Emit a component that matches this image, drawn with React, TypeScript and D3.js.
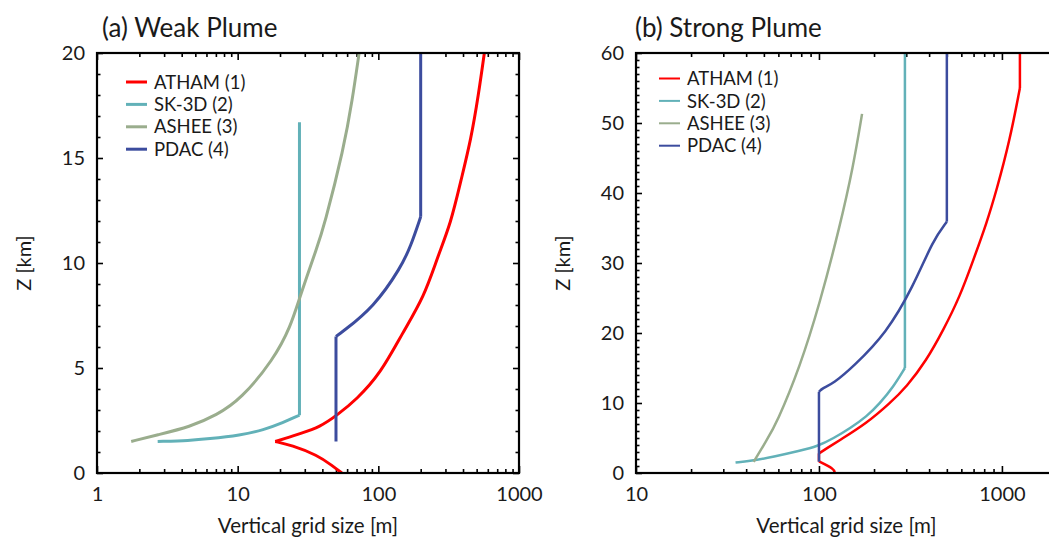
import React, { useRef, useEffect } from "react";
import * as d3 from "d3";

const WIDTH = 1049;
const HEIGHT = 545;

const seriesNames = ["ATHAM (1)", "SK-3D (2)", "ASHEE (3)", "PDAC (4)"];
const seriesColors = ["#ff0000", "#62b1b8", "#9aad8d", "#3c4c9e"];

// [vertical grid size (m), height (km)] — each series split into segments at its corners
const weakAtham = [
  [[55, 0], [47, 0.35], [37, 0.85], [24, 1.33], [18.5, 1.5]],
  [[18.5, 1.5], [23.8, 1.73], [27, 1.85], [38.8, 2.2], [51, 2.76], [70, 3.5], [104, 4.75], [148, 6.65],
   [212, 8.4], [264, 10.3], [328, 11.9], [387, 13.95], [456, 15.9], [515, 18], [567, 20]],
];
const weakSk3d = [
  [[2.7, 1.5], [4.6, 1.55], [6.1, 1.62], [10.5, 1.8], [15.3, 2.05], [21, 2.4], [27.5, 2.75]],
  [[27.5, 2.75], [27.5, 16.7]],
];
const weakAshee = [
  [[1.75, 1.5], [2.66, 1.81], [4.6, 2.2], [7.1, 2.76], [10.5, 3.5], [18, 5.4], [23.8, 6.97], [27.7, 8.4],
   [36.8, 10.78], [41, 11.7], [57, 15.5], [65.3, 17.76], [73, 20]],
];
const weakPdac = [
  [[50, 1.5], [50, 6.5]],
  [[50, 6.5], [55, 6.7], [93, 7.9], [145, 9.8], [170, 10.8], [200, 12.2]],
  [[200, 12.2], [200, 20]],
];

const strongAtham = [
  [[122, 0], [121, 0.6], [100, 1.65]],
  [[100, 1.65], [100, 2.8]],
  [[100, 2.8], [110, 3.5], [130, 4.7], [182, 7.1], [244, 9.96], [301, 12.3], [387, 16.1], [478, 20.4],
   [589, 25.2], [697, 30.4], [825, 35.7], [935, 40.4], [1106, 47.6], [1254, 55]],
  [[1254, 55], [1254, 60]],
];
const strongSk3d = [
  [[35, 1.5], [43.8, 1.76], [56, 2.3], [78.8, 3.19], [98, 3.8], [120, 4.95], [148, 6.4], [182, 8.05],
   [215, 9.95], [255, 12.3], [295, 15]],
  [[295, 15], [295, 60]],
];
const strongAshee = [
  [[44, 1.6], [51.8, 4.7], [58.7, 7.1], [78.8, 15.2], [101, 24.2], [130, 35.2], [154, 43.8], [172, 51.3]],
];
const strongPdac = [
  [[100, 1.6], [100, 11.6]],
  [[100, 11.6], [104, 12.1], [120, 12.8], [154, 15.2], [234, 20], [327, 26.6], [421, 33.3], [500, 35.9]],
  [[500, 35.9], [500, 60]],
];

const weakXTicks = [1, 10, 100, 1000];
const weakYTicks = [0, 5, 10, 15, 20];
const strongXTicks = [10, 100, 1000];
const strongYTicks = [0, 10, 20, 30, 40, 50, 60];

const FONT = "Lato, 'Open Sans', sans-serif";
const INK = "#1a1a1a";

const panels = [
  {
    id: "a", title: "(a) Weak Plume", titleX: 102,
    left: 97, top: 53, width: 422, height: 420,
    xDomain: [1, 1000], yDomain: [0, 20], xTicks: weakXTicks, yTicks: weakYTicks,
    series: [weakAtham, weakSk3d, weakAshee, weakPdac], lineWidth: 3,
    legendX: 29, legendY: 29, legendWidth: 3,
  },
  {
    id: "b", title: "(b) Strong Plume", titleX: 635,
    left: 636, top: 53, width: 421, height: 420,
    xDomain: [10, 2000], yDomain: [0, 60], xTicks: strongXTicks, yTicks: strongYTicks,
    series: [strongAtham, strongSk3d, strongAshee, strongPdac], lineWidth: 2.5,
    legendX: 23, legendY: 25.5, legendWidth: 2,
  },
];

const App = () => {
  const svgRef = useRef(null);

  useEffect(() => {
    const svg = d3.select(svgRef.current);
    svg.selectAll("*").remove();

    panels.forEach(p => {
      const x = d3.scaleLog().domain(p.xDomain).range([0, p.width]);
      const y = d3.scaleLinear().domain(p.yDomain).range([p.height, 0]);
      const g = svg.append("g").attr("transform", `translate(${p.left},${p.top})`);

      const clipId = `clip-${p.id}`;
      svg.append("clipPath").attr("id", clipId)
        .append("rect").attr("width", p.width).attr("height", p.height);

      const minorX = x.ticks().filter(v => !p.xTicks.includes(v));
      const minorY = d3.range(p.yDomain[0], p.yDomain[1] + 1, 1).filter(v => !p.yTicks.includes(v));

      const styleAxis = sel => {
        sel.select(".domain").remove();
        sel.attr("font-family", null).attr("font-size", null);
        sel.selectAll("line").attr("stroke", "#000").attr("stroke-width", 1.6);
      };

      // minor ticks on all four sides (inward)
      g.append("g").attr("transform", `translate(0,${p.height})`)
        .call(d3.axisBottom(x).tickValues(minorX).tickSize(-4).tickFormat(() => "")).call(styleAxis);
      g.append("g")
        .call(d3.axisTop(x).tickValues(minorX).tickSize(-4).tickFormat(() => "")).call(styleAxis);
      g.append("g")
        .call(d3.axisLeft(y).tickValues(minorY).tickSize(-3.5).tickFormat(() => "")).call(styleAxis);
      g.append("g").attr("transform", `translate(${p.width},0)`)
        .call(d3.axisRight(y).tickValues(minorY).tickSize(-3.5).tickFormat(() => "")).call(styleAxis);

      // major ticks
      const xAxis = g.append("g").attr("transform", `translate(0,${p.height})`)
        .call(d3.axisBottom(x).tickValues(p.xTicks).tickSize(-7).tickPadding(14).tickFormat(d3.format("d")))
        .call(styleAxis);
      g.append("g")
        .call(d3.axisTop(x).tickValues(p.xTicks).tickSize(-7).tickFormat(() => "")).call(styleAxis);
      const yAxis = g.append("g")
        .call(d3.axisLeft(y).tickValues(p.yTicks).tickSize(-6).tickPadding(12)).call(styleAxis);
      g.append("g").attr("transform", `translate(${p.width},0)`)
        .call(d3.axisRight(y).tickValues(p.yTicks).tickSize(-6).tickFormat(() => "")).call(styleAxis);

      [xAxis, yAxis].forEach(a => a.selectAll("text")
        .attr("fill", INK).style("font-family", FONT).style("font-size", "20px"));

      // curves
      const line = d3.line()
        .x(d => x(d[0]))
        .y(d => y(d[1]))
        .curve(d3.curveBasis);

      const plot = g.append("g").attr("clip-path", `url(#${clipId})`);
      p.series.forEach((segments, i) => {
        plot.selectAll(null)
          .data(segments)
          .join("path")
          .attr("d", line)
          .attr("fill", "none")
          .attr("stroke", seriesColors[i])
          .attr("stroke-width", p.lineWidth)
          .attr("stroke-linejoin", "round");
      });

      // frame
      g.append("rect")
        .attr("width", p.width).attr("height", p.height)
        .attr("fill", "none").attr("stroke", "#000").attr("stroke-width", 2.2);

      // legend
      const legend = g.append("g").attr("transform", `translate(${p.legendX},${p.legendY})`);
      seriesNames.forEach((name, i) => {
        const row = legend.append("g").attr("transform", `translate(0,${i * 22.4})`);
        row.append("line").attr("x1", 0).attr("x2", 21)
          .attr("stroke", seriesColors[i]).attr("stroke-width", p.legendWidth);
        row.append("text").attr("x", 28).attr("dy", "0.36em")
          .attr("fill", INK).style("font-family", FONT).style("font-size", "18.5px")
          .text(name);
      });

      // titles and axis labels
      svg.append("text").attr("x", p.titleX).attr("y", 37)
        .attr("fill", INK).style("font-family", FONT).style("font-size", "26px")
        .text(p.title);
      svg.append("text").attr("x", p.left + p.width / 2).attr("y", 533)
        .attr("text-anchor", "middle")
        .attr("fill", INK).style("font-family", FONT).style("font-size", "20.5px")
        .text("Vertical grid size [m]");
      svg.append("text")
        .attr("transform", `translate(${p.left - 66},${p.top + p.height / 2}) rotate(-90)`)
        .attr("text-anchor", "middle")
        .attr("fill", INK).style("font-family", FONT).style("font-size", "20px")
        .text("Z [km]");
    });
  }, []);

  return (
    <svg
      ref={svgRef}
      width={WIDTH}
      height={HEIGHT}
      style={{ position: "absolute", left: 0, top: 0, background: "#fff" }}
    />
  );
};

export default App;
